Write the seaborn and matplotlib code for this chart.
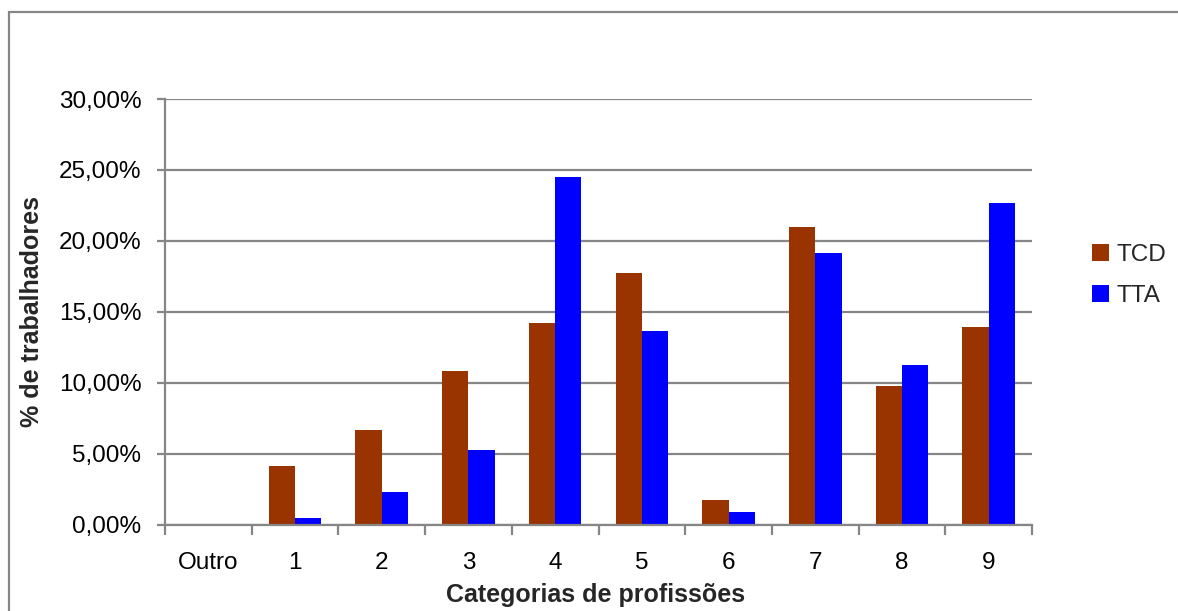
import matplotlib
matplotlib.use("Agg")
import matplotlib.pyplot as plt
import seaborn as sns
import pandas as pd
from matplotlib.patches import Rectangle
from matplotlib.ticker import FuncFormatter, MultipleLocator, FixedLocator

# Percentage of workers by occupation category
categories = ["Outro", "1", "2", "3", "4", "5", "6", "7", "8", "9"]
tcd = [0.0, 4.12, 6.65, 10.86, 14.23, 17.75, 1.73, 20.98, 9.74, 13.95]
tta = [0.0, 0.47, 2.30, 5.24, 24.49, 13.67, 0.89, 19.15, 11.28, 22.66]
series = ["TCD", "TTA"]
colors = {"TCD": "#993300", "TTA": "#0000FF"}

df = pd.DataFrame({
    "categoria": categories * 2,
    "serie": [series[0]] * len(categories) + [series[1]] * len(categories),
    "valor": tcd + tta,
})

sns.set_style("white")
plt.rcParams["font.family"] = ["Liberation Sans", "DejaVu Sans"]

GRAY = "#868686"
fig = plt.figure(figsize=(11.78, 6.11), dpi=100)
ax = fig.add_axes([165 / 1178, 1 - 524.7 / 611, 867 / 1178, (524.7 - 99) / 611])

sns.barplot(data=df, x="categoria", y="valor", hue="serie", order=categories,
            hue_order=series, palette=colors, width=0.607, gap=0,
            saturation=1, errorbar=None, linewidth=0, ax=ax)

ax.set_xlim(-0.5, len(categories) - 0.5)
ax.set_ylim(0, 30)
ax.yaxis.set_major_locator(MultipleLocator(5))
ax.yaxis.set_major_formatter(FuncFormatter(lambda v, p: f"{v:.2f}".replace(".", ",") + "%"))

ax.grid(axis="y", color=GRAY, linewidth=1.6)
ax.set_axisbelow(True)
for side in ("top", "right"):
    ax.spines[side].set_visible(False)
for side in ("left", "bottom"):
    ax.spines[side].set_color(GRAY)
    ax.spines[side].set_linewidth(1.6)

# category boundary tick marks below the axis
ax.xaxis.set_minor_locator(FixedLocator([i - 0.5 for i in range(len(categories) + 1)]))
ax.tick_params(axis="x", which="minor", length=7, width=1.6, color=GRAY, direction="out", bottom=True)
ax.tick_params(axis="x", which="major", length=0, pad=20, labelsize=17.5, labelcolor="black")
ax.tick_params(axis="y", which="major", length=6, width=1.6, color=GRAY, direction="out",
               pad=11, labelsize=17.5, labelcolor="black", left=True)

ax.set_xlabel("Categorias de profissões", fontsize=18, fontweight="bold", va="center")
ax.xaxis.set_label_coords(0.4965, -0.165)
ax.set_ylabel("% de trabalhadores", fontsize=18, fontweight="bold", va="center")
ax.yaxis.set_label_coords(-0.153, 0.5)

handles, labels = ax.get_legend_handles_labels()
ax.get_legend().remove()
fig.legend(handles, labels, loc="center left", bbox_to_anchor=(1092 / 1178, 1 - 275.5 / 611),
           frameon=False, fontsize=17.5, handlelength=0.7, handleheight=0.7,
           handletextpad=0.3, labelspacing=0.75, borderpad=0, borderaxespad=0)

# outer chart border
fig.add_artist(Rectangle((9 / 1178, -0.1), 1.2, 1 - 12 / 611 + 0.1, transform=fig.transFigure,
                         fill=False, edgecolor=GRAY, linewidth=1.6))

fig.savefig("out.png", dpi=100, facecolor="white")
